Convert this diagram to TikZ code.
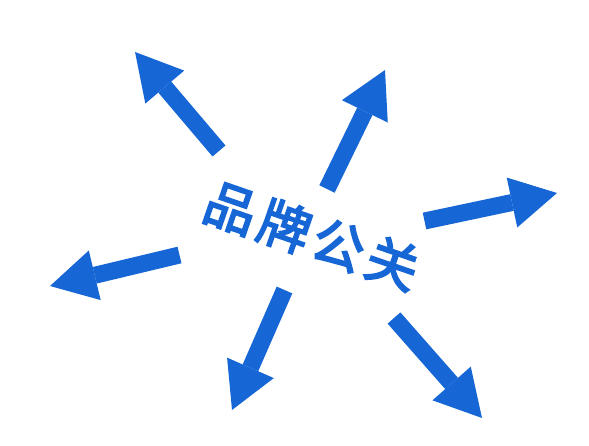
\documentclass[tikz,border=0pt]{standalone}
\usepackage{fontspec}
\newfontfamily\cjk[FakeBold=3.5]{Noto Sans CJK SC}
\usetikzlibrary{arrows.meta}
\definecolor{arrowblue}{RGB}{22,102,214}
\tikzset{
  bigarrow/.style={draw=arrowblue, line width=17pt,
    -{Triangle[length=46pt,width=51pt,line width=0pt]}},
  title/.style={text=arrowblue, font=\cjk\fontsize{52}{52}\selectfont,
    inner sep=0pt, rotate=-19}
}
\begin{document}
\begin{tikzpicture}[x=1pt,y=1pt]
\useasboundingbox (0,0) rectangle (589,445);
\fill[white] (0,0) rectangle (589,445);
% tails and tips
\coordinate (t1) at (219,294); \coordinate (p1) at (135,393);
\coordinate (t2) at (327,256); \coordinate (p2) at (385,375);
\coordinate (t3) at (424.5,224); \coordinate (p3) at (557,252);
\coordinate (t4) at (179.5,190); \coordinate (p4) at (50,159);
\coordinate (t5) at (284.5,155); \coordinate (p5) at (232,35);
\coordinate (t6) at (394,127); \coordinate (p6) at (482,27);
\foreach \i in {1,...,6} { \draw[bigarrow] (t\i) -- (p\i); }
\node[title] (center) at (312,209.5) {品\hspace{5pt}牌\hspace{5pt}公\hspace{5pt}关};
\end{tikzpicture}
\end{document}
